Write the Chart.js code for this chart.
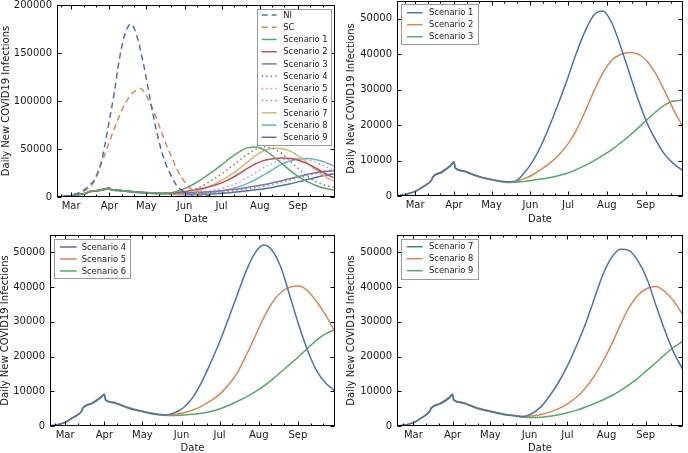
<!DOCTYPE html>
<html><head><meta charset="utf-8">
<script src="https://cdn.jsdelivr.net/npm/chart.js@4.4.0/dist/chart.umd.min.js"></script>
<style>
html,body{margin:0;padding:0;background:#fff;width:688px;height:453px;overflow:hidden;}
canvas{position:absolute;display:block;}
</style></head><body>
<canvas id="c1" width="344" height="226" style="left:0;top:0"></canvas>
<canvas id="c2" width="344" height="226" style="left:344px;top:0"></canvas>
<canvas id="c3" width="344" height="227" style="left:0;top:226px"></canvas>
<canvas id="c4" width="344" height="227" style="left:344px;top:226px"></canvas>
<script>
// ---- data (day offsets from 1 March) ----
const monthTicks = [0, 31, 61, 92, 122, 153, 184];
const monthLabels = ['Mar','Apr','May','Jun','Jul','Aug','Sep'];
const minorTicks = [-8, 10, 20, 41, 51, 71, 81, 102, 112, 132, 142, 163, 173, 194, 204];
const yTicksAll = [0, 50000, 100000, 150000, 200000];
const yTicksScen = [0, 10000, 20000, 30000, 40000, 50000];

const niDays = [-14,-7,0,7,11,15,19,23,27,31,35,39,43,46,48,50,53,56,60,64,68,72,76,80,85,90,95,100,110,130,160,213];
const ni = [0,600,1800,4600,8000,12500,18000,30000,52000,80000,109000,143000,167000,177000,180000,178500,169000,154000,130000,102000,76000,54000,37000,25000,13000,6800,3300,1500,400,100,0,0];
const scDays = [-14,-7,0,7,14,18,22,26,30,34,38,42,46,50,53,56,59,62,66,70,74,78,82,86,90,94,98,102,108,115,125,140,213];
const sc = [0,700,2000,4500,9000,15000,27000,40000,54000,68000,81000,93000,102000,108500,111500,113000,110000,103000,92000,79000,65000,52000,40000,28500,19500,12500,7500,4500,2000,800,200,0,0];

const days = [-14,-7,0,7,13,14,21,28,31,32,38,45,52,59,66,73,80,87,94,101,108,115,122,129,136,143,150,157,164,171,178,185,192,199,206,213];
const s1 = [0,500,1300,2800,4500,5300,6700,8500,9500,7900,7100,6200,5400,4800,4300,4000,4200,6500,9900,14600,20400,26700,33500,40600,46800,51200,52200,48800,42200,34700,27200,20700,15800,11800,9200,7300];
const s2 = [0,500,1300,2800,4500,5400,6800,8600,9700,8000,7200,6300,5400,4800,4300,3950,4100,4900,6000,7600,9400,11700,14700,18800,24100,29800,34800,38300,39900,40500,40000,38100,34500,29700,24500,20000];
const s3 = [0,500,1300,2800,4400,5200,6600,8400,9400,7800,7000,6100,5300,4700,4200,3800,3900,4100,4450,4800,5200,5800,6500,7500,8700,10000,11500,13100,15000,17000,19200,21500,23700,25600,26800,27000];
const s4 = [0,300,1050,2600,4300,5200,6500,8200,9100,7500,6800,5900,5000,4400,3800,3350,3200,3900,5400,8300,12700,18200,24100,30800,37700,44600,49800,52100,50400,45200,37000,28700,21400,15800,12300,10300];
const s5 = [0,300,1050,2600,4300,5300,6600,8300,9200,7600,6900,6000,5100,4450,3850,3400,3100,3300,3800,4600,5700,7200,9100,11800,15300,20300,25700,31200,35700,38600,40000,40300,38800,35700,31900,27300];
const s6 = [0,300,1050,2600,4200,5100,6400,8100,9000,7400,6700,5800,4900,4300,3700,3250,3000,3050,3200,3400,3700,4200,4900,5900,7100,8300,9800,11500,13500,15700,17900,20100,22500,24800,26600,27700];
const s7 = [0,250,960,2500,4300,5100,6400,8000,9000,7500,6800,5900,5000,4400,3800,3300,3000,2750,3600,5500,8700,12600,17300,22900,29100,36300,43500,48500,50900,50500,47500,42400,34900,27700,21400,16500];
const s8 = [0,250,960,2500,4300,5200,6500,8200,9200,7600,6900,6000,5100,4500,3850,3350,3050,2750,2850,3300,4000,5000,6400,8200,10800,14200,18500,23500,29100,34200,37700,39600,40200,38800,36100,32300];
const s9 = [0,250,960,2500,4200,5000,6300,7900,8900,7400,6700,5800,4900,4300,3700,3200,2900,2550,2450,2550,2800,3250,3800,4500,5400,6400,7500,8700,10200,11900,13800,16000,18200,20500,22600,24300];

const pal = ['#4C72B0','#DD8452','#55A868','#C44E52','#8172B3','#937860','#DA8BC3','#8C8C8C','#CCB974','#64B5CD'];
const DASH = [6, 4], DOT = [1.5, 3];

function pts(xs, ys){ return xs.map((d,i)=>({x:d, y:ys[i]})); }
function ds(label, xs, ys, color, dash){
  return {label, data: pts(xs, ys), borderColor: color, backgroundColor: color, borderDash: dash || [], borderWidth: 1.5, pointRadius: 0, fill: false, cubicInterpolationMode: 'monotone'};
}

const FONT = "'DejaVu Sans', sans-serif";
const TXT = '#1a1a1a';

const frame = {
  id: 'frame',
  afterDatasetsDraw(chart) {
    const {ctx, chartArea: a, scales: {x, y}} = chart;
    const L = Math.round(a.left) + 0.5, R = Math.round(a.right) - 0.5, T = Math.round(a.top) + 0.5, B = Math.round(a.bottom) - 0.5;
    ctx.save();
    ctx.strokeStyle = '#000'; ctx.lineWidth = 1; ctx.setLineDash([]);
    ctx.strokeRect(L, T, R - L, B - T);
    ctx.beginPath();
    const tx = (v, len) => { const px = Math.round(x.getPixelForValue(v)) + 0.5; if (px <= L || px >= R) return; ctx.moveTo(px, B); ctx.lineTo(px, B - len); ctx.moveTo(px, T); ctx.lineTo(px, T + len); };
    x.ticks.forEach(t => tx(t.value, 4));
    minorTicks.forEach(v => tx(v, 2));
    y.ticks.forEach(t => { const py = Math.round(y.getPixelForValue(t.value)) + 0.5; ctx.moveTo(L, py); ctx.lineTo(L + 4, py); ctx.moveTo(R, py); ctx.lineTo(R - 4, py); });
    ctx.stroke();
    ctx.restore();
  }
};

const legendBox = {
  id: 'legendBox',
  afterDraw(chart, args, o) {
    const ctx = chart.ctx;
    ctx.save();
    ctx.fillStyle = '#fff'; ctx.fillRect(o.x, o.y, o.w, o.h);
    ctx.strokeStyle = '#999'; ctx.lineWidth = 1; ctx.strokeRect(Math.round(o.x) + 0.5, Math.round(o.y) + 0.5, Math.round(o.w), Math.round(o.h));
    chart.data.datasets.forEach((d, i) => {
      const yy = o.row0 + i * o.gap;
      ctx.strokeStyle = d.borderColor; ctx.lineWidth = 1.5; ctx.setLineDash(d.borderDash || []);
      ctx.beginPath(); ctx.moveTo(o.lx0, yy); ctx.lineTo(o.lx1, yy); ctx.stroke();
      ctx.setLineDash([]);
      ctx.fillStyle = TXT; ctx.font = '8.4px ' + FONT; ctx.textBaseline = 'middle'; ctx.textAlign = 'left';
      ctx.fillText(d.label, o.tx, yy + 0.5);
    });
    ctx.restore();
  }
};

function makeChart(id, datasets, cfg) {
  return new Chart(document.getElementById(id), {
    type: 'line',
    data: { datasets },
    plugins: [frame, legendBox],
    options: {
      responsive: false, animation: false, devicePixelRatio: 1,
      layout: { padding: { left: 0, right: cfg.padR, top: cfg.padT, bottom: 0 } },
      plugins: { legend: { display: false }, tooltip: { enabled: false }, legendBox: cfg.legend },
      scales: {
        x: {
          type: 'linear', min: cfg.xmin, max: cfg.xmax,
          grid: { display: false, drawTicks: false }, border: { display: false },
          ticks: { autoSkip: false, maxRotation: 0, padding: 3, color: TXT, font: { family: FONT, size: 10 },
                   callback: v => monthLabels[monthTicks.indexOf(v)] },
          afterBuildTicks: s => { s.ticks = monthTicks.map(v => ({ value: v })); },
          afterFit: s => { s.height = cfg.xh; s.paddingLeft = 0; s.paddingRight = 0; },
          title: { display: true, text: 'Date', color: TXT, font: { family: FONT, size: 10, lineHeight: 1 }, padding: { top: 0, bottom: cfg.xtPad } }
        },
        y: {
          type: 'linear', min: 0, max: cfg.ymax,
          grid: { display: false, drawTicks: false }, border: { display: false },
          ticks: { autoSkip: false, padding: 5, color: TXT, font: { family: FONT, size: 10 }, callback: v => String(v) },
          afterBuildTicks: s => { s.ticks = cfg.yticks.map(v => ({ value: v })); },
          afterFit: s => { s.width = cfg.yw; s.paddingTop = 0; s.paddingBottom = 0; },
          title: { display: true, text: 'Daily New COVID19 Infections', color: TXT, font: { family: FONT, size: 10, lineHeight: 1 }, padding: { top: cfg.ytPad, bottom: 0 } }
        }
      }
    }
  });
}

makeChart('c1', [
  ds('NI', niDays, ni, pal[0], DASH),
  ds('SC', scDays, sc, pal[1], DASH),
  ds('Scenario 1', days, s1, pal[2]),
  ds('Scenario 2', days, s2, pal[3]),
  ds('Scenario 3', days, s3, pal[4]),
  ds('Scenario 4', days, s4, pal[5], DOT),
  ds('Scenario 5', days, s5, pal[6], DOT),
  ds('Scenario 6', days, s6, pal[7], DOT),
  ds('Scenario 7', days, s7, pal[8]),
  ds('Scenario 8', days, s8, pal[9]),
  ds('Scenario 9', days, s9, pal[0])
], { xmin: -11.5, xmax: 214, ymax: 200000, yticks: yTicksAll, padR: 9, padT: 5, xh: 29, yw: 57, xtPad: 2, ytPad: 1,
     legend: { x: 257, y: 9, w: 74, h: 136, row0: 15, gap: 12.23, lx0: 261.7, lx1: 276.7, tx: 283.3 } });

makeChart('c2', [
  ds('Scenario 1', days, s1, pal[0]),
  ds('Scenario 2', days, s2, pal[1]),
  ds('Scenario 3', days, s3, pal[2])
], { xmin: -14.5, xmax: 213.8, ymax: 55000, yticks: yTicksScen, padR: 5, padT: 1, xh: 30, yw: 53, xtPad: 2, ytPad: 2,
     legend: { x: 57.3, y: 4.3, w: 76.7, h: 39.7, row0: 12.7, gap: 12, lx0: 63, lx1: 78.7, tx: 85 } });

makeChart('c3', [
  ds('Scenario 4', days, s4, pal[0]),
  ds('Scenario 5', days, s5, pal[1]),
  ds('Scenario 6', days, s6, pal[2])
], { xmin: -12, xmax: 213.3, ymax: 55000, yticks: yTicksScen, padR: 9, padT: 9, xh: 27, yw: 50, xtPad: 0, ytPad: 0,
     legend: { x: 54.3, y: 13.3, w: 75.7, h: 39, row0: 21, gap: 12, lx0: 60, lx1: 76.7, tx: 81.7 } });

makeChart('c4', [
  ds('Scenario 7', days, s7, pal[0]),
  ds('Scenario 8', days, s8, pal[1]),
  ds('Scenario 9', days, s9, pal[2])
], { xmin: -13, xmax: 213.6, ymax: 55000, yticks: yTicksScen, padR: 5, padT: 9, xh: 27, yw: 53, xtPad: 0, ytPad: 2,
     legend: { x: 57, y: 12.7, w: 77, h: 39.6, row0: 20.7, gap: 12, lx0: 62.7, lx1: 78.7, tx: 85 } });
</script>
</body></html>
